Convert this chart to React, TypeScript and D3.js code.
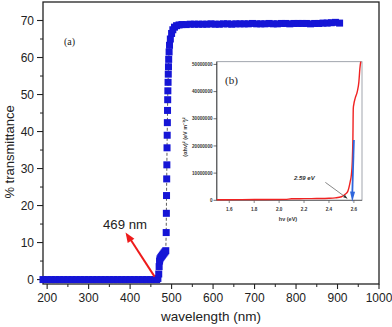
import React from 'react';
import * as d3 from 'd3';

// main spectrum (a)
const wavelength = [
  190, 200, 210, 220, 230, 240, 250, 260, 270, 280, 290, 300, 310, 320, 330, 340, 350, 360, 370, 380,
  390, 400, 410, 420, 430, 440, 450, 460, 464, 467, 469, 470, 471, 472, 474, 476, 478, 480, 482, 484,
  486, 487, 487.4, 487.8, 488.2, 488.6, 489, 489.4, 489.8, 490.2, 490.6, 491, 491.5, 492, 492.5, 493,
  494, 495, 497, 500, 503, 507, 512, 518, 525,
  535, 545, 555, 565, 575, 585, 595, 605, 615, 625, 635, 645, 655, 665, 675, 685, 695, 705, 715, 725,
  735, 745, 755, 765, 775, 785, 795, 805, 815, 825, 835, 845, 855, 865, 875, 885, 895, 905,
];
const transmittance = [
  0, 0, 0, 0, 0, 0, 0, 0, 0, 0, 0, 0, 0, 0, 0, 0, 0, 0, 0, 0,
  0, 0, 0, 0, 0, 0, 0, 0, 0, 0.3, 1.5, 3.5, 5, 5.6, 6, 6.3, 6.6, 6.9, 7.2, 7.5,
  7.8, 12.7, 17.9, 22.7, 27.2, 31, 35.6, 39, 42.4, 45.7, 48.6, 51, 53.3, 55.5, 57.5, 59.5,
  61.5, 63.3, 65, 66.5, 67.5, 68.2, 68.6, 68.8, 68.9,
  68.9, 69.0, 69.0, 69.0, 69.0, 69.0, 69.1, 69.0, 69.0, 69.1, 69.1, 69.0, 69.1, 69.1, 69.1, 69.1, 69.2, 69.1, 69.1, 69.1,
  69.2, 69.1, 69.1, 69.2, 69.2, 69.1, 69.2, 69.2, 69.2, 69.2, 69.1, 69.2, 69.2, 69.3, 69.3, 69.4, 69.5, 69.3,
];
const xTicks = [200, 300, 400, 500, 600, 700, 800, 900, 1000];
const xMinor = [250, 350, 450, 550, 650, 750, 850, 950];
const yTicks = [0, 10, 20, 30, 40, 50, 60, 70];
const yMinor = [5, 15, 25, 35, 45, 55, 65];
const edgeArrow = [[459, 0.8], [389, 12.7]];

// Tauc plot inset (b)
const energy = [1.5, 1.7, 1.9, 2.05, 2.1, 2.2, 2.3, 2.4, 2.45, 2.5, 2.53, 2.55, 2.57, 2.58, 2.587, 2.592, 2.595, 2.6, 2.61, 2.627, 2.64, 2.648, 2.655];
const tauc = [0.2, 0.25, 0.3, 0.35, 0.55, 0.6, 0.65, 0.75, 0.9, 1.3, 2.2, 3.2, 6.8, 9.5, 14.2, 22.8, 33.8, 35.5, 37.5, 40, 43.6, 48.5, 51].map(v => v * 1e6);
const insetXTicks = [1.6, 1.8, 2.0, 2.2, 2.4, 2.6];
const insetYTicks = [0, 10000000, 20000000, 30000000, 40000000, 50000000];
const gapArrow = [[2.6, 22.2e6], [2.587, -0.5e6]];
const pointerArrow = [[2.371, 6.6e6], [2.547, 0.7e6]];

const FONT = 'Liberation Sans, Arial, sans-serif';
const SERIF = 'Liberation Serif, Times New Roman, serif';

const head = (x1: number, y1: number, x2: number, y2: number, len: number, wid: number) => {
  const a = Math.atan2(y2 - y1, x2 - x1);
  const bx = x2 - len * Math.cos(a), by = y2 - len * Math.sin(a);
  const px = -Math.sin(a) * wid / 2, py = Math.cos(a) * wid / 2;
  return `${x2},${y2} ${bx + px},${by + py} ${bx - px},${by - py}`;
};

export default function App() {
  const x = d3.scaleLinear().domain([190, 1000]).range([43, 379]);
  const y = d3.scaleLinear().domain([-1.2, 75]).range([284, 2]);
  const ix = d3.scaleLinear().domain([1.5, 2.665]).range([216.8, 362]);
  const iy = d3.scaleLinear().domain([0, 51e6]).range([200.3, 61.7]);

  const pts = wavelength.map((w, i) => [x(w), y(transmittance[i])] as [number, number]);
  const mainLine = d3.line()(pts) || '';
  const redLine = d3.line<number>()
    .x((_, i) => ix(energy[i]))
    .y(d => iy(d))
    .curve(d3.curveMonotoneX)(tauc) || '';

  const [a0, a1] = edgeArrow.map(([w, t]) => [x(w), y(t)]);
  const [g0, g1] = gapArrow.map(([e, v]) => [ix(e), iy(v)]);
  const [p0, p1] = pointerArrow.map(([e, v]) => [ix(e), iy(v)]);
  const ms = 7;

  return (
    <svg width={392} height={327} style={{ position: 'absolute', left: 0, top: 0, background: '#fff' }}>
      {/* frame */}
      <rect x={43} y={2} width={336} height={282} fill="none" stroke="#222" strokeWidth={1.3} />

      {/* main axes ticks */}
      {xTicks.map(t => (
        <g key={'xt' + t}>
          <line x1={x(t)} x2={x(t)} y1={284} y2={289} stroke="#222" strokeWidth={1.1} />
          <text x={x(t)} y={301.5} fontSize={12} fontFamily={FONT} textAnchor="middle" fill="#222">{t}</text>
        </g>
      ))}
      {xMinor.map(t => (
        <line key={'xm' + t} x1={x(t)} x2={x(t)} y1={284} y2={287} stroke="#222" strokeWidth={1} />
      ))}
      {yTicks.map(t => (
        <g key={'yt' + t}>
          <line x1={37} x2={43} y1={y(t)} y2={y(t)} stroke="#222" strokeWidth={1.1} />
          <text x={34} y={y(t) + 4.3} fontSize={12} fontFamily={FONT} textAnchor="end" fill="#222">{t}</text>
        </g>
      ))}
      {yMinor.map(t => (
        <line key={'ym' + t} x1={40} x2={43} y1={y(t)} y2={y(t)} stroke="#222" strokeWidth={1} />
      ))}

      <text x={211} y={321} fontSize={13.5} fontFamily={FONT} textAnchor="middle" fill="#222">wavelength (nm)</text>
      <text transform="translate(14,152) rotate(-90)" fontSize={13} fontFamily={FONT} textAnchor="middle" fill="#222">% transmittance</text>
      <text x={64} y={45} fontSize={10} fontFamily={SERIF} fill="#222">(a)</text>

      {/* spectrum */}
      <path d={mainLine} fill="none" stroke="#333" strokeWidth={0.8} strokeDasharray="3,2" />
      {pts.map(([px, py], i) => (
        <rect key={i} x={px - ms / 2} y={py - ms / 2} width={ms} height={ms} fill="#1515d6" />
      ))}

      {/* 469 nm arrow */}
      <line x1={a0[0]} y1={a0[1]} x2={a1[0] + 5} y2={a1[1] + 7} stroke="#ee1b1b" strokeWidth={2} />
      <polygon points={head(a0[0], a0[1], a1[0], a1[1], 10, 8)} fill="#ee1b1b" />
      <text x={103} y={229} fontSize={13.2} fontFamily={FONT} fill="#222">469 nm</text>

      {/* inset */}
      <rect x={216.8} y={61.7} width={145.2} height={138.6} fill="#fff" stroke="#8a8f99" strokeWidth={0.8} />
      <line x1={216.8} x2={216.8} y1={61.7} y2={200.3} stroke="#333" strokeWidth={0.9} />
      <line x1={216.8} x2={362} y1={200.3} y2={200.3} stroke="#555" strokeWidth={0.8} />
      {insetYTicks.map(t => (
        <g key={'iy' + t}>
          <line x1={213.5} x2={216.8} y1={iy(t)} y2={iy(t)} stroke="#333" strokeWidth={0.7} />
          <text x={212.5} y={iy(t) + 1.6} fontSize={4.6} fontWeight="bold" fontFamily={FONT} textAnchor="end" fill="#333">{t}</text>
        </g>
      ))}
      {insetXTicks.map(t => (
        <g key={'ix' + t}>
          <line x1={ix(t)} x2={ix(t)} y1={200.3} y2={203} stroke="#555" strokeWidth={0.7} />
          <text x={ix(t)} y={210.8} fontSize={4.6} fontWeight="bold" fontFamily={FONT} textAnchor="middle" fill="#333">{t.toFixed(1)}</text>
        </g>
      ))}
      <text x={288} y={221} fontSize={5.5} fontWeight="bold" fontFamily={FONT} textAnchor="middle" fill="#333">hν (eV)</text>
      <text transform="translate(186.5,137) rotate(-90)" fontSize={5.5} fontWeight="bold" fontFamily={FONT} textAnchor="middle" fill="#333">(αhν)² (eV m⁻¹)²</text>
      <text x={225} y={84} fontSize={11} fontFamily={SERIF} fill="#222">(b)</text>

      <path d={redLine} fill="none" stroke="#f02222" strokeWidth={1.4} />

      <line x1={g0[0]} y1={g0[1]} x2={g1[0]} y2={g1[1] - 8} stroke="#2f66dc" strokeWidth={1.8} />
      <polygon points={head(g0[0], g0[1], g1[0], g1[1], 10, 5)} fill="#2f66dc" />

      <line x1={p0[0]} y1={p0[1]} x2={p1[0]} y2={p1[1]} stroke="#555" strokeWidth={0.7} />
      <polygon points={head(p0[0], p0[1], p1[0], p1[1], 4, 3)} fill="#333" />
      <text x={294} y={180} fontSize={6} fontWeight="bold" fontStyle="italic" fontFamily={FONT} fill="#333">2.59 eV</text>
    </svg>
  );
}
